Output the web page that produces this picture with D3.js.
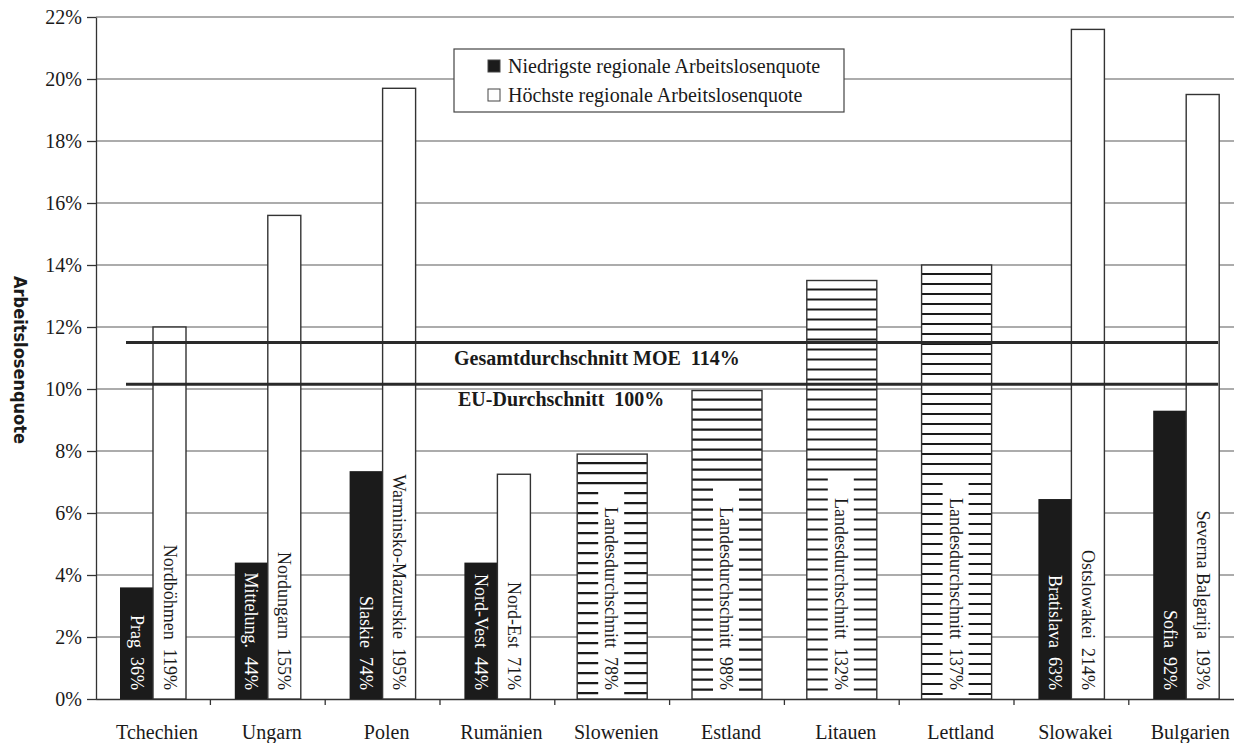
<!DOCTYPE html>
<html lang="de">
<head>
<meta charset="utf-8">
<title>Regionale Arbeitslosenquoten MOE</title>
<script src="https://d3js.org/d3.v7.min.js"></script>
<style>
  body { margin: 0; background: #fff; }
  text { font-family: "Liberation Serif", "Times New Roman", serif; fill: #1a1a1a; }
</style>
</head>
<body>
<script>

// --- data ---
var countries = ["Tchechien", "Ungarn", "Polen", "Rumänien", "Slowenien", "Estland", "Litauen", "Lettland", "Slowakei", "Bulgarien"];

var lowRegions = ["Prag", "Mittelung.", "Slaskie", "Nord-Vest", null, null, null, null, "Bratislava", "Sofia"];
var lowValues  = [3.6, 4.4, 7.35, 4.4, null, null, null, null, 6.45, 9.3];
var lowIndex   = [36, 44, 74, 44, null, null, null, null, 63, 92];

var highRegions = ["Nordböhmen", "Nordungarn", "Warminsko-Mazurskie", "Nord-Est", null, null, null, null, "Ostslowakei", "Severna Balgarija"];
var highValues  = [12.0, 15.6, 19.7, 7.25, null, null, null, null, 21.6, 19.5];
var highIndex   = [119, 155, 195, 71, null, null, null, null, 214, 193];

var nationalValues = [null, null, null, null, 7.9, 9.95, 13.5, 14.0, null, null];
var nationalIndex  = [null, null, null, null, 78, 98, 132, 137, null, null];

var avgLabels = ["Gesamtdurchschnitt MOE", "EU-Durchschnitt"];
var avgIndex  = [114, 100];
var avgValues = [11.5, 10.15];

var yTicks = [0, 2, 4, 6, 8, 10, 12, 14, 16, 18, 20, 22];
var legendLabels = ["Niedrigste regionale Arbeitslosenquote", "Höchste regionale Arbeitslosenquote"];

// --- setup ---
var width = 1234, height = 743;

var svg = d3.select("body").append("svg")
    .attr("width", width)
    .attr("height", height);

var x = d3.scaleBand()
    .domain(countries)
    .range([95.6, 1243.6]);

var y = d3.scaleLinear()
    .domain([0, 22])
    .range([699, 17]);

var bw = x.bandwidth();
var pairW = 33;
var natW = 70;
var dark = "#1b1b1b";
var cx = function(i) { return x(countries[i]) + bw / 2; };

// gridlines
svg.append("g")
  .selectAll("line")
  .data(yTicks.slice(1))
  .enter().append("line")
    .attr("x1", 96).attr("x2", width)
    .attr("y1", function(d) { return y(d); })
    .attr("y2", function(d) { return y(d); })
    .attr("stroke", "#5a5a5a")
    .attr("stroke-width", 1.2);

// y axis
var yAxis = svg.append("g")
    .attr("transform", "translate(96,0)")
    .call(d3.axisLeft(y).tickValues(yTicks).tickFormat(function(d) { return d + "%"; })
      .tickSize(9).tickSizeOuter(0).tickPadding(5));
yAxis.selectAll("text").style("font-size", "20px").attr("fill", "#1a1a1a");
yAxis.selectAll("line, path").attr("stroke", "#333").attr("stroke-width", 1.3);

// x axis
var xAxis = svg.append("g")
    .attr("transform", "translate(0,699)")
    .call(d3.axisBottom(x).tickSize(0).tickSizeOuter(0).tickPadding(26));
xAxis.selectAll("text").style("font-size", "20px").attr("fill", "#1a1a1a").attr("dx", 4);
xAxis.select(".domain").attr("stroke", "#333").attr("stroke-width", 1.3);
xAxis.selectAll(".bound")
  .data(countries.slice(1))
  .enter().append("line")
    .attr("class", "bound")
    .attr("x1", function(d) { return x(d); })
    .attr("x2", function(d) { return x(d); })
    .attr("y1", 0).attr("y2", 6)
    .attr("stroke", "#333").attr("stroke-width", 1.3);

// y axis title
svg.append("text")
    .attr("transform", "translate(14,360) rotate(90)")
    .attr("text-anchor", "middle")
    .style("font-family", "'Liberation Sans Narrow', 'DejaVu Sans Condensed', sans-serif")
    .style("font-stretch", "condensed")
    .style("font-weight", "bold")
    .style("font-size", "18px")
    .text("Arbeitslosenquote");

var idx = d3.range(countries.length);

// low (dark) bars
var lowIdx = idx.filter(function(i) { return lowValues[i] != null; });
svg.append("g").selectAll("rect")
  .data(lowIdx)
  .enter().append("rect")
    .attr("x", function(i) { return cx(i) - pairW; })
    .attr("y", function(i) { return y(lowValues[i]); })
    .attr("width", pairW)
    .attr("height", function(i) { return y(0) - y(lowValues[i]); })
    .attr("fill", dark);

// high (white) bars
svg.append("g").selectAll("rect")
  .data(lowIdx)
  .enter().append("rect")
    .attr("x", function(i) { return cx(i); })
    .attr("y", function(i) { return y(highValues[i]); })
    .attr("width", pairW)
    .attr("height", function(i) { return y(0) - y(highValues[i]); })
    .attr("fill", "#fff")
    .attr("stroke", "#333")
    .attr("stroke-width", 1.4);

// national average bars (hatched)
var natIdx = idx.filter(function(i) { return nationalValues[i] != null; });
var natG = svg.append("g").selectAll("g")
  .data(natIdx)
  .enter().append("g");

natG.append("rect")
    .attr("x", function(i) { return cx(i) - natW / 2; })
    .attr("y", function(i) { return y(nationalValues[i]); })
    .attr("width", natW)
    .attr("height", function(i) { return y(0) - y(nationalValues[i]); })
    .attr("fill", "#fff");

natG.each(function(i) {
  var top = y(nationalValues[i]);
  d3.select(this).selectAll("line.h")
    .data(d3.range(top + 9, y(0) - 4, 10))
    .enter().append("line")
      .attr("class", "h")
      .attr("x1", cx(i) - natW / 2).attr("x2", cx(i) + natW / 2)
      .attr("y1", function(d) { return d; })
      .attr("y2", function(d) { return d; })
      .attr("stroke", "#1a1a1a")
      .attr("stroke-width", 2.2);
});

var natGap = natG.append("rect")
    .attr("fill", "#fff");

natG.append("rect")
    .attr("x", function(i) { return cx(i) - natW / 2; })
    .attr("y", function(i) { return y(nationalValues[i]); })
    .attr("width", natW)
    .attr("height", function(i) { return y(0) - y(nationalValues[i]); })
    .attr("fill", "none")
    .attr("stroke", "#333")
    .attr("stroke-width", 1.4);

// bar labels (rotated)
function barLabel(sel, xpos, txt, col) {
  return sel.append("text")
      .attr("transform", function(i) { return "translate(" + xpos(i) + "," + (y(0) - 9) + ") rotate(90)"; })
      .attr("text-anchor", "end")
      .attr("dy", "0.33em")
      .style("font-size", "18px")
      .style("white-space", "pre")
      .attr("fill", col)
      .style("fill", col)
      .text(txt);
}

var labG = svg.append("g");
barLabel(labG.selectAll(".lo").data(lowIdx).enter(),
  function(i) { return cx(i) - pairW / 2; },
  function(i) { return lowRegions[i] + "  " + lowIndex[i] + "%"; }, "#fff");
barLabel(labG.selectAll(".hi").data(lowIdx).enter(),
  function(i) { return cx(i) + pairW / 2; },
  function(i) { return highRegions[i] + "  " + highIndex[i] + "%"; }, "#1a1a1a");
var natText = barLabel(natG,
  function(i) { return cx(i) - 1; },
  function(i) { return "Landesdurchschnitt  " + nationalIndex[i] + "%"; }, "#1a1a1a");

// white gap behind hatched labels
natText.each(function(i) {
  var len = this.getComputedTextLength();
  var g = d3.select(this.parentNode);
  var top = y(0) - 9 - len - 22;
  g.select("rect:nth-of-type(2)")
    .attr("x", cx(i) - 14)
    .attr("width", 26)
    .attr("y", top)
    .attr("height", y(0) - 3 - top);
});

// average lines
svg.append("g").selectAll("line")
  .data(avgValues)
  .enter().append("line")
    .attr("x1", cx(0) - 27).attr("x2", cx(9) + 32)
    .attr("y1", function(d) { return y(d); })
    .attr("y2", function(d) { return y(d); })
    .attr("stroke", "#2a2a2a")
    .attr("stroke-width", 3);

svg.append("g").selectAll("text")
  .data(avgValues)
  .enter().append("text")
    .attr("x", function(d, i) { return i === 0 ? 454 : 458; })
    .attr("y", function(d) { return y(d) + 22; })
    .style("font-size", "20px")
    .style("font-weight", "bold")
    .style("white-space", "pre")
    .text(function(d, i) { return avgLabels[i] + "  " + avgIndex[i] + "%"; });

// legend
var leg = svg.append("g");
leg.append("rect")
    .attr("x", 454).attr("y", 49)
    .attr("width", 390).attr("height", 63)
    .attr("fill", "#fff")
    .attr("stroke", "#444")
    .attr("stroke-width", 1.2);

var legItem = leg.selectAll("g")
  .data(legendLabels)
  .enter().append("g")
    .attr("transform", function(d, i) { return "translate(488," + (60 + i * 29) + ")"; });

legItem.append("rect")
    .attr("width", 12).attr("height", 12)
    .attr("fill", function(d, i) { return i === 0 ? dark : "#fff"; })
    .attr("stroke", "#444")
    .attr("stroke-width", 1);

legItem.append("text")
    .attr("x", 20)
    .attr("y", 13)
    .style("font-size", "20px")
    .text(function(d) { return d; });

</script>
</body>
</html>
